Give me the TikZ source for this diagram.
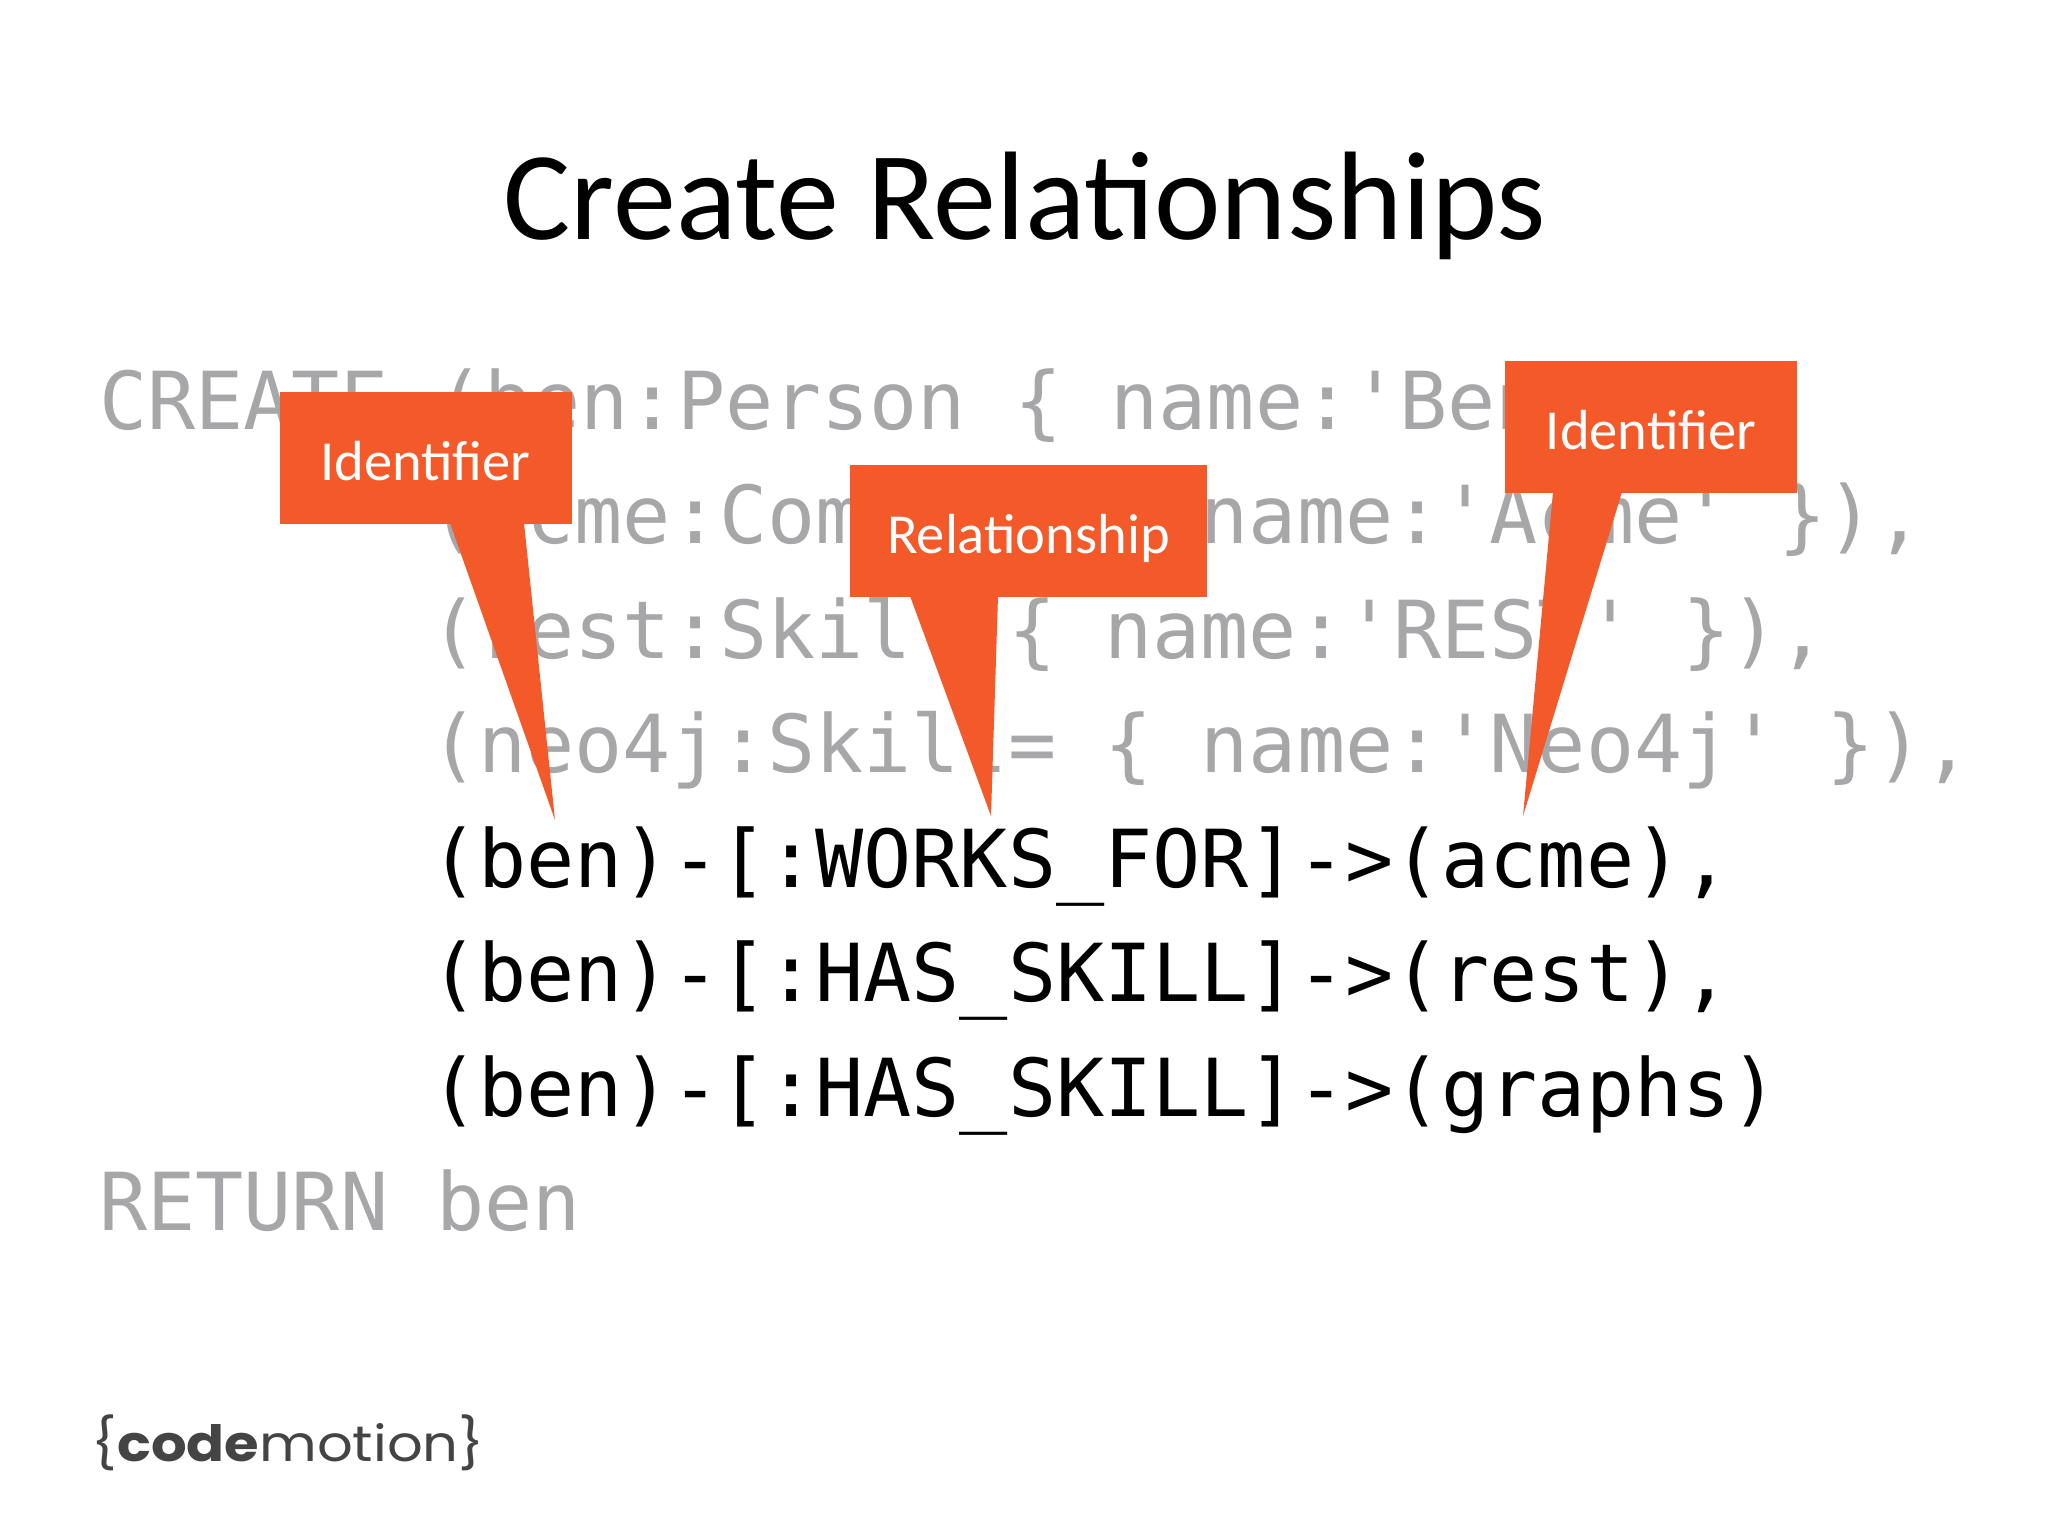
\documentclass[tikz,border=0pt]{standalone}
\usepackage{fontspec}
\setmainfont{Carlito}
\newfontfamily\codefont{DejaVu Sans Mono}
\newfontfamily\logofont{Poppins}
\definecolor{faded}{HTML}{A7A7A9}
\definecolor{flag}{HTML}{F4592A}
\definecolor{logoink}{HTML}{444444}
\tikzset{
  x=1pt,y=-1pt,
  codeline/.style={anchor=base west,inner sep=0pt,font=\codefont\fontsize{80}{80}\selectfont},
  dim/.style={codeline,text=faded},
  live/.style={codeline,text=black},
  flagbox/.style={fill=flag,text=white,inner sep=0pt,text height=44pt,text depth=0pt,font=\fontsize{56.5}{56.5}\selectfont},
  tail/.style={fill=flag,draw=none},
}
\begin{document}
\begin{tikzpicture}
\useasboundingbox (0,0) rectangle (2048,1536);
\fill[white] (0,0) rectangle (2048,1536);
\node[anchor=base,inner sep=0pt,font=\fontsize{126}{126}\selectfont] (title) at (1025,239) {Create Relationships};
\node[dim] (l1) at (99,429) {CREATE (ben:Person \{ name:'Ben' \}),};
\node[dim] (l2) at (430,543.5) {(acme:Company \{ name:'Acme' \}),};
\node[dim] (l3) at (430,658) {(rest:Skill \{ name:'REST' \}),};
\node[dim] (l4) at (430,772.5) {(neo4j:Skill= \{ name:'Neo4j' \}),};
\node[live] (l5) at (430,887) {(ben)-[:WORKS\_FOR]->(acme),};
\node[live] (l6) at (430,1001.5) {(ben)-[:HAS\_SKILL]->(rest),};
\node[live] (l7) at (430,1116) {(ben)-[:HAS\_SKILL]->(graphs)};
\node[dim] (l8) at (99,1230.5) {RETURN ben};
% callouts
\coordinate (t1) at (555,820);
\coordinate (t2) at (991,816);
\coordinate (t3) at (1523,816);
\fill[tail] (450,523) -- (524,523) -- (t1) -- cycle;
\fill[tail] (910,596) -- (998,596) -- (t2) -- cycle;
\fill[tail] (1553,492) -- (1622,492) -- (t3) -- cycle;
\node[flagbox,minimum width=292pt,minimum height=132pt] (c1) at (425.5,458) {Identifier};
\node[flagbox,minimum width=357pt,minimum height=132pt] (c2) at (1028.5,531) {Relationship};
\node[flagbox,minimum width=292pt,minimum height=132pt] (c3) at (1651,427) {Identifier};
\node[inner sep=0pt,text=logoink,xscale=1.12,font=\logofont\fontsize{50}{50}\selectfont] (logo) at (288,1443) {\{{\bfseries code}motion\}};
\end{tikzpicture}
\end{document}
